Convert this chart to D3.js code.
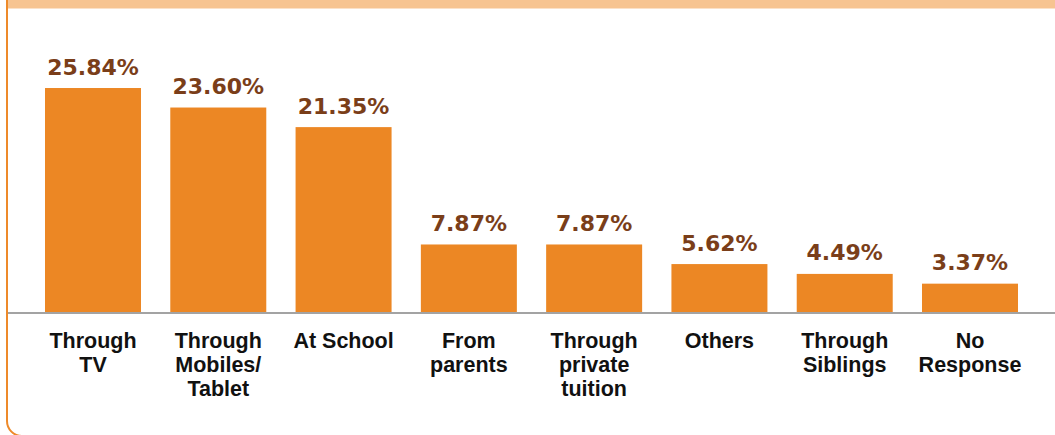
<!DOCTYPE html>
<html>
<head>
<meta charset="utf-8">
<script src="https://cdn.jsdelivr.net/npm/d3@7"></script>
<style>
  html, body { margin: 0; padding: 0; background: #fff; }
  svg { display: block; }
</style>
</head>
<body>
<svg id="chart" width="1055" height="435"></svg>
<script>
// Sources of information, share of respondents (%)
const categories = [
  ["Through", "TV"],
  ["Through", "Mobiles/", "Tablet"],
  ["At School"],
  ["From", "parents"],
  ["Through", "private", "tuition"],
  ["Others"],
  ["Through", "Siblings"],
  ["No", "Response"]
];
const values = [25.84, 23.60, 21.35, 7.87, 7.87, 5.62, 4.49, 3.37];
const valueLabels = ["25.84%", "23.60%", "21.35%", "7.87%", "7.87%", "5.62%", "4.49%", "3.37%"];

const W = 1055, H = 435;
const svg = d3.select("#chart");

// Frame: light orange header strip and rounded orange border
svg.append("rect")
  .attr("x", 7).attr("y", 0).attr("width", W).attr("height", 8.5)
  .attr("fill", "#F7C491");
svg.append("rect")
  .attr("x", 7).attr("y", -40).attr("width", W + 40).attr("height", 476)
  .attr("rx", 15).attr("ry", 15)
  .attr("fill", "none").attr("stroke", "#EE8A2A").attr("stroke-width", 2);

const baseY = 313;
const ids = d3.range(values.length);

const x = d3.scaleBand()
  .domain(ids)
  .range([30.35, 1032.65])
  .paddingInner(0.2338)
  .paddingOuter(0.1169);

const y = d3.scaleLinear()
  .domain([0, 30])
  .range([baseY, baseY - 261.2]);

// Bars
svg.append("g").selectAll("rect")
  .data(ids)
  .join("rect")
  .attr("x", i => x(i))
  .attr("y", i => y(values[i]))
  .attr("width", x.bandwidth())
  .attr("height", i => y(0) - y(values[i]))
  .attr("fill", "#EC8724");

// Baseline
svg.append("line")
  .attr("x1", 8).attr("x2", W)
  .attr("y1", baseY).attr("y2", baseY)
  .attr("stroke", "#A3A3A3").attr("stroke-width", 2);

// Value labels
svg.append("g").selectAll("text")
  .data(ids)
  .join("text")
  .attr("x", i => x(i) + x.bandwidth() / 2)
  .attr("y", i => y(values[i]) - 13.5)
  .attr("text-anchor", "middle")
  .attr("font-family", "'DejaVu Sans', sans-serif")
  .attr("font-weight", "bold")
  .attr("font-size", 22)
  .attr("fill", "#7A3E19")
  .text(i => valueLabels[i]);

// Category labels
const cat = svg.append("g").selectAll("text")
  .data(ids)
  .join("text")
  .attr("x", i => x(i) + x.bandwidth() / 2)
  .attr("y", 347.7)
  .attr("text-anchor", "middle")
  .attr("font-family", "'Liberation Sans', Arial, sans-serif")
  .attr("font-weight", "bold")
  .attr("font-size", 21.5)
  .attr("fill", "#111");

cat.each(function (i) {
  const t = d3.select(this);
  categories[i].forEach((line, k) => {
    t.append("tspan")
      .attr("x", x(i) + x.bandwidth() / 2)
      .attr("dy", k === 0 ? 0 : 24)
      .text(line);
  });
});
</script>
</body>
</html>
